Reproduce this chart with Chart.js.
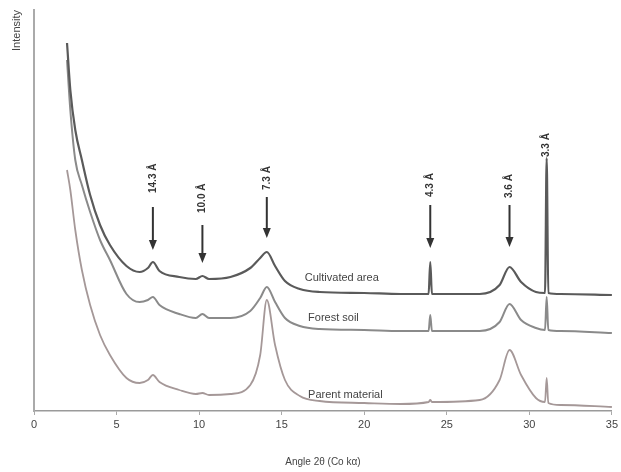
<!DOCTYPE html>
<html>
<head>
<meta charset="utf-8">
<script src="https://cdn.jsdelivr.net/npm/chart.js@4.4.0/dist/chart.umd.min.js"></script>
<style>
  html, body { margin: 0; padding: 0; background: #fff; }
  #wrap { width: 621px; height: 472px; }
</style>
</head>
<body>
<div id="wrap"><canvas id="xrdChart"></canvas></div>
<script>
// 2 theta (degrees, Co K alpha)
const angles = [2.0, 2.2, 2.5, 2.9, 3.4, 4.0, 4.6, 5.6, 6.4, 6.9, 7.2, 7.6, 8.8, 9.8, 10.2, 10.6, 11.9, 13.1, 13.7, 14.1,
  14.6, 15.2, 16.1, 17.3, 20.0, 22.2, 23.9, 24.0, 24.1, 27.0, 28.2, 28.8, 29.5, 30.4, 30.95, 31.05, 31.15, 31.9, 35.0];

const cultivated = [368, 321, 281, 251, 216, 186, 166, 145, 139, 143, 149, 140, 134, 132, 135, 132, 134, 143, 153, 159,
  145, 130, 122, 119, 118, 117, 117, 149, 117, 117, 126, 144, 129, 119, 118, 253, 118, 117, 116];

const forest = [351, 301, 251, 226, 199, 171, 151, 117, 109, 111, 114, 106, 97, 93, 97, 93, 93, 100, 113, 124,
  109, 93, 85, 82, 81, 80, 80, 96, 80, 80, 89, 107, 91, 83, 81, 114, 81, 80, 78];

const parent = [241, 221, 181, 141, 106, 76, 56, 33, 28, 31, 36, 29, 21, 17, 18, 16, 17, 26, 56, 111,
  66, 31, 15, 10, 8, 7, 9, 11, 9, 11, 31, 61, 36, 13, 9, 33, 8, 6, 4];

const seriesNames = ['Cultivated area', 'Forest soil', 'Parent material'];

// d-spacing labels of the peaks
const peakLabels = ['14.3 Å', '10.0 Å', '7.3 Å', '4.3 Å', '3.6 Å', '3.3 Å'];
const peakAngles = [7.2, 10.2, 14.1, 24.0, 28.8, 31.05];

const xTicks = [0, 5, 10, 15, 20, 25, 30, 35];

function toPoints(values) {
  return angles.map((a, i) => ({ x: a, y: values[i] }));
}

// arrows + rotated labels, and the names next to each trace
const markPlugin = {
  id: 'marks',
  afterDatasetsDraw(chart) {
    const { ctx, scales: { x, y } } = chart;
    // arrow tip, arrow tail, label start (intensity units)
    const tips = [161, 148, 173, 163, 164, null];
    const tails = [204, 186, 214, 206, 206, null];
    const labelStart = [218, 198, 221, 214, 213, 254];

    ctx.save();
    ctx.strokeStyle = '#333';
    ctx.fillStyle = '#333';
    ctx.lineWidth = 2;
    peakAngles.forEach((a, i) => {
      const px = x.getPixelForValue(a);
      if (tips[i] !== null) {
        const yTip = y.getPixelForValue(tips[i]);
        const yTail = y.getPixelForValue(tails[i]);
        ctx.beginPath();
        ctx.moveTo(px, yTail);
        ctx.lineTo(px, yTip - 8);
        ctx.stroke();
        ctx.beginPath();
        ctx.moveTo(px - 4, yTip - 10);
        ctx.lineTo(px + 4, yTip - 10);
        ctx.lineTo(px, yTip);
        ctx.closePath();
        ctx.fill();
      }
      ctx.save();
      ctx.translate(px, y.getPixelForValue(labelStart[i]));
      ctx.rotate(-Math.PI / 2);
      ctx.font = 'bold 10px "Liberation Sans", Arial, sans-serif';
      ctx.textAlign = 'left';
      ctx.textBaseline = 'middle';
      ctx.fillText(peakLabels[i], 0, 0);
      ctx.restore();
    });

    // trace names
    const namePos = [[16.4, 133], [16.6, 93], [16.6, 16]];
    ctx.font = '11px "Liberation Sans", Arial, sans-serif';
    ctx.fillStyle = '#444';
    ctx.textAlign = 'left';
    ctx.textBaseline = 'middle';
    seriesNames.forEach((n, i) => {
      ctx.fillText(n, x.getPixelForValue(namePos[i][0]), y.getPixelForValue(namePos[i][1]));
    });
    ctx.restore();
  }
};

const ctx = document.getElementById('xrdChart').getContext('2d');
const xrdChart = new Chart(ctx, {
  type: 'line',
  data: {
    datasets: [{
      label: seriesNames[0],
      data: toPoints(cultivated),
      borderColor: '#5a5a5a',
      borderWidth: 2.2,
    }, {
      label: seriesNames[1],
      data: toPoints(forest),
      borderColor: '#8a8a8a',
      borderWidth: 2,
    }, {
      label: seriesNames[2],
      data: toPoints(parent),
      borderColor: '#a59898',
      borderWidth: 1.8,
    }]
  },
  options: {
    responsive: true,
    maintainAspectRatio: false,
    animation: false,
    layout: { padding: { top: 10, right: 9, left: 0, bottom: 0 } },
    elements: {
      point: { radius: 0 },
      line: { cubicInterpolationMode: 'monotone', fill: false },
    },
    plugins: {
      legend: { display: false },
      tooltip: { enabled: false },
    },
    scales: {
      x: {
        type: 'linear',
        min: 0,
        max: 35,
        afterBuildTicks(scale) {
          scale.ticks = xTicks.map(v => ({ value: v }));
        },
        afterFit(scale) { scale.height = 61; },
        grid: {
          display: true,
          drawOnChartArea: false,
          tickLength: 4,
          color: '#aaa',
        },
        border: { color: '#9a9a9a', width: 1.5 },
        ticks: {
          color: '#444',
          padding: 3,
          maxRotation: 0,
          font: { size: 11, family: '"Liberation Sans", Arial, sans-serif' },
        },
        title: {
          display: true,
          text: 'Angle 2θ (Co kα)',
          color: '#444',
          font: { size: 10, family: '"Liberation Sans", Arial, sans-serif' },
          padding: { top: 4, bottom: 4 },
        },
      },
      y: {
        min: 0,
        max: 401,
        afterFit(scale) { scale.width = 34; },
        grid: { display: false },
        border: { color: '#aaa', width: 2 },
        ticks: { display: false },
        title: {
          display: true,
          text: 'Intensity',
          align: 'end',
          color: '#444',
          font: { size: 11, family: '"Liberation Sans", Arial, sans-serif' },
          padding: { top: 10, bottom: 0 },
        },
      },
    },
  },
  plugins: [markPlugin],
});
</script>
</body>
</html>
